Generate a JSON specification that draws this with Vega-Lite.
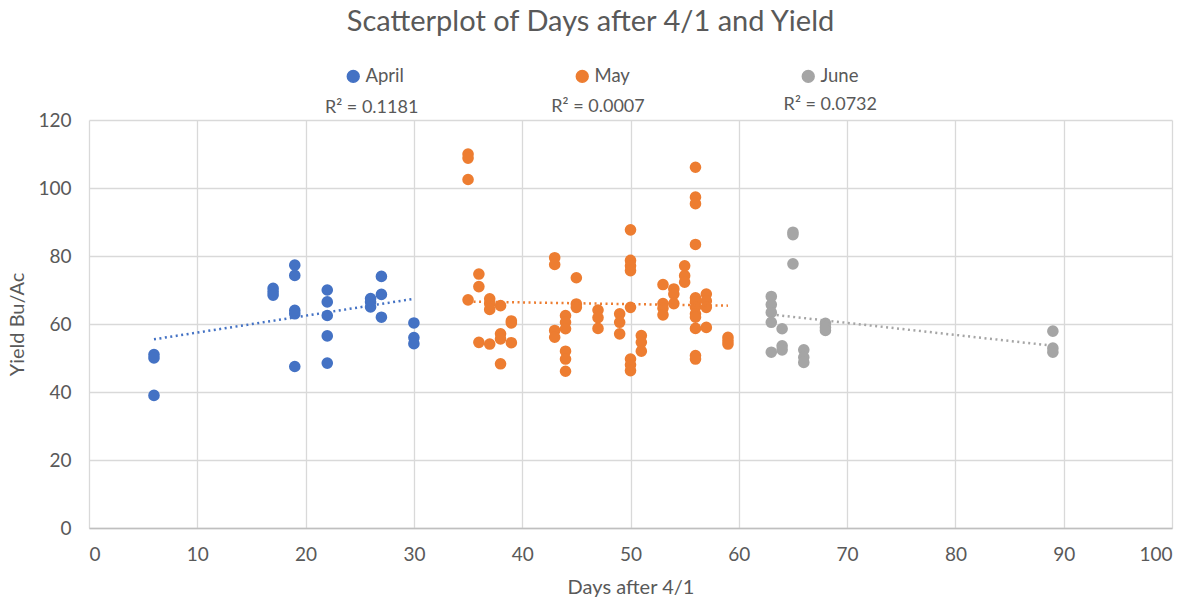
{
  "$schema": "https://vega.github.io/schema/vega-lite/v6.json",
  "width": 1083,
  "height": 408,
  "autosize": {"type": "none"},
  "padding": {"left": 89, "top": 120, "right": 21, "bottom": 75},
  "background": "white",
  "title": {
    "text": "Scatterplot of Days after 4/1 and Yield",
    "font": "Lato",
    "fontSize": 29,
    "fontWeight": "normal",
    "color": "#595959",
    "anchor": "middle",
    "dx": -40,
    "offset": 30
  },
  "config": {
    "view": {"stroke": null},
    "font": "Lato",
    "axis": {
      "labelFont": "Lato",
      "labelFontSize": 19,
      "labelColor": "#595959",
      "titleFont": "Lato",
      "titleFontSize": 20,
      "titleFontWeight": "normal",
      "titleColor": "#595959",
      "gridColor": "#D9D9D9",
      "gridWidth": 1.3,
      "ticks": false,
      "domainColor": "#BFBFBF",
      "domainWidth": 1.5
    }
  },
  "datasets": {
    "points": [
      {"month": "April", "day": 6, "yield": 51},
      {"month": "April", "day": 6, "yield": 50},
      {"month": "April", "day": 6, "yield": 39},
      {"month": "April", "day": 17, "yield": 70.5},
      {"month": "April", "day": 17, "yield": 69.5},
      {"month": "April", "day": 17, "yield": 68.5},
      {"month": "April", "day": 19, "yield": 77.3},
      {"month": "April", "day": 19, "yield": 74.3},
      {"month": "April", "day": 19, "yield": 64},
      {"month": "April", "day": 19, "yield": 63},
      {"month": "April", "day": 19, "yield": 47.5},
      {"month": "April", "day": 22, "yield": 70},
      {"month": "April", "day": 22, "yield": 66.5},
      {"month": "April", "day": 22, "yield": 62.5},
      {"month": "April", "day": 22, "yield": 56.5},
      {"month": "April", "day": 22, "yield": 48.5},
      {"month": "April", "day": 26, "yield": 67.5},
      {"month": "April", "day": 26, "yield": 66.5},
      {"month": "April", "day": 26, "yield": 65},
      {"month": "April", "day": 27, "yield": 74},
      {"month": "April", "day": 27, "yield": 68.7},
      {"month": "April", "day": 27, "yield": 62},
      {"month": "April", "day": 30, "yield": 60.3},
      {"month": "April", "day": 30, "yield": 56},
      {"month": "April", "day": 30, "yield": 54.2},
      {"month": "May", "day": 35, "yield": 110},
      {"month": "May", "day": 35, "yield": 108.8},
      {"month": "May", "day": 35, "yield": 102.5},
      {"month": "May", "day": 35, "yield": 67.1},
      {"month": "May", "day": 36, "yield": 74.7},
      {"month": "May", "day": 36, "yield": 71},
      {"month": "May", "day": 36, "yield": 54.6},
      {"month": "May", "day": 37, "yield": 67.4},
      {"month": "May", "day": 37, "yield": 66},
      {"month": "May", "day": 37, "yield": 64.3},
      {"month": "May", "day": 37, "yield": 54.1},
      {"month": "May", "day": 38, "yield": 65.4},
      {"month": "May", "day": 38, "yield": 57.1},
      {"month": "May", "day": 38, "yield": 55.6},
      {"month": "May", "day": 38, "yield": 48.3},
      {"month": "May", "day": 39, "yield": 60.9},
      {"month": "May", "day": 39, "yield": 60.3},
      {"month": "May", "day": 39, "yield": 54.5},
      {"month": "May", "day": 43, "yield": 79.5},
      {"month": "May", "day": 43, "yield": 77.5},
      {"month": "May", "day": 43, "yield": 58.1},
      {"month": "May", "day": 43, "yield": 56.1},
      {"month": "May", "day": 44, "yield": 62.5},
      {"month": "May", "day": 44, "yield": 60.5},
      {"month": "May", "day": 44, "yield": 58.6},
      {"month": "May", "day": 44, "yield": 52},
      {"month": "May", "day": 44, "yield": 49.7},
      {"month": "May", "day": 44, "yield": 46.1},
      {"month": "May", "day": 45, "yield": 73.6},
      {"month": "May", "day": 45, "yield": 65.9},
      {"month": "May", "day": 45, "yield": 64.9},
      {"month": "May", "day": 47, "yield": 64.1},
      {"month": "May", "day": 47, "yield": 61.9},
      {"month": "May", "day": 47, "yield": 58.7},
      {"month": "May", "day": 49, "yield": 63},
      {"month": "May", "day": 49, "yield": 60.5},
      {"month": "May", "day": 49, "yield": 57.1},
      {"month": "May", "day": 50, "yield": 87.7},
      {"month": "May", "day": 50, "yield": 78.7},
      {"month": "May", "day": 50, "yield": 77.1},
      {"month": "May", "day": 50, "yield": 75.7},
      {"month": "May", "day": 50, "yield": 64.9},
      {"month": "May", "day": 50, "yield": 49.7},
      {"month": "May", "day": 50, "yield": 48},
      {"month": "May", "day": 50, "yield": 46.3},
      {"month": "May", "day": 51, "yield": 56.6},
      {"month": "May", "day": 51, "yield": 54.6},
      {"month": "May", "day": 51, "yield": 52},
      {"month": "May", "day": 53, "yield": 71.6},
      {"month": "May", "day": 53, "yield": 66},
      {"month": "May", "day": 53, "yield": 64.6},
      {"month": "May", "day": 53, "yield": 62.7},
      {"month": "May", "day": 54, "yield": 70.3},
      {"month": "May", "day": 54, "yield": 68.8},
      {"month": "May", "day": 54, "yield": 66},
      {"month": "May", "day": 55, "yield": 77.1},
      {"month": "May", "day": 55, "yield": 74.2},
      {"month": "May", "day": 55, "yield": 72.3},
      {"month": "May", "day": 56, "yield": 106.1},
      {"month": "May", "day": 56, "yield": 97.3},
      {"month": "May", "day": 56, "yield": 95.4},
      {"month": "May", "day": 56, "yield": 83.4},
      {"month": "May", "day": 56, "yield": 67.7},
      {"month": "May", "day": 56, "yield": 66.5},
      {"month": "May", "day": 56, "yield": 64.9},
      {"month": "May", "day": 56, "yield": 63},
      {"month": "May", "day": 56, "yield": 62},
      {"month": "May", "day": 56, "yield": 58.7},
      {"month": "May", "day": 56, "yield": 50.7},
      {"month": "May", "day": 56, "yield": 49.7},
      {"month": "May", "day": 57, "yield": 68.8},
      {"month": "May", "day": 57, "yield": 66.8},
      {"month": "May", "day": 57, "yield": 64.9},
      {"month": "May", "day": 57, "yield": 59},
      {"month": "May", "day": 59, "yield": 56.1},
      {"month": "May", "day": 59, "yield": 55.1},
      {"month": "May", "day": 59, "yield": 54.1},
      {"month": "June", "day": 63, "yield": 68.1},
      {"month": "June", "day": 63, "yield": 65.7},
      {"month": "June", "day": 63, "yield": 63.4},
      {"month": "June", "day": 63, "yield": 60.5},
      {"month": "June", "day": 63, "yield": 51.7},
      {"month": "June", "day": 64, "yield": 58.6},
      {"month": "June", "day": 64, "yield": 53.6},
      {"month": "June", "day": 64, "yield": 52.4},
      {"month": "June", "day": 65, "yield": 87},
      {"month": "June", "day": 65, "yield": 86.3},
      {"month": "June", "day": 65, "yield": 77.7},
      {"month": "June", "day": 66, "yield": 52.4},
      {"month": "June", "day": 66, "yield": 50.2},
      {"month": "June", "day": 66, "yield": 48.7},
      {"month": "June", "day": 68, "yield": 60.2},
      {"month": "June", "day": 68, "yield": 59},
      {"month": "June", "day": 68, "yield": 58.1},
      {"month": "June", "day": 89, "yield": 57.9},
      {"month": "June", "day": 89, "yield": 52.9},
      {"month": "June", "day": 89, "yield": 51.7}
    ],
    "trends": [
      {"month": "April", "day": 6, "yield": 55.5},
      {"month": "April", "day": 30, "yield": 67.4},
      {"month": "May", "day": 35, "yield": 66.6},
      {"month": "May", "day": 59, "yield": 65.4},
      {"month": "June", "day": 63, "yield": 62.8},
      {"month": "June", "day": 89, "yield": 53.6}
    ],
    "rsq": [
      {"month": "April", "label": "R² = 0.1181", "day": 26.1, "yield": 123.5},
      {"month": "May", "label": "R² = 0.0007", "day": 47.0, "yield": 123.9},
      {"month": "June", "label": "R² = 0.0732", "day": 68.45, "yield": 124.4}
    ]
  },
  "layer": [
    {
      "data": {"name": "points"},
      "mark": {"type": "circle", "size": 135, "opacity": 1},
      "encoding": {
        "x": {
          "field": "day", "type": "quantitative",
          "scale": {"domain": [0, 100], "nice": false},
          "axis": {"title": "Days after 4/1", "values": [0,10,20,30,40,50,60,70,80,90,100], "labelPadding": 17, "titlePadding": 13}
        },
        "y": {
          "field": "yield", "type": "quantitative",
          "scale": {"domain": [0, 120], "nice": false},
          "axis": {"title": "Yield Bu/Ac", "values": [0,20,40,60,80,100,120], "domain": false, "labelPadding": 18, "titlePadding": 10}
        },
        "color": {
          "field": "month", "type": "nominal",
          "scale": {"domain": ["April", "May", "June"], "range": ["#4472C4", "#ED7D31", "#A5A5A5"]},
          "legend": {
            "title": null,
            "orient": "none",
            "legendX": 255,
            "legendY": -53,
            "direction": "horizontal",
            "columnPadding": 169,
            "symbolType": "circle",
            "symbolSize": 140,
            "symbolOpacity": 1,
            "labelFont": "Lato",
            "labelFontSize": 18.5,
            "labelColor": "#595959",
            "labelOffset": 3
          }
        }
      }
    },
    {
      "data": {"name": "trends"},
      "mark": {"type": "line", "strokeWidth": 2.5, "strokeDash": [2, 3.5]},
      "encoding": {
        "x": {"field": "day", "type": "quantitative"},
        "y": {"field": "yield", "type": "quantitative"},
        "color": {"field": "month", "type": "nominal", "legend": null}
      }
    },
    {
      "data": {"name": "rsq"},
      "mark": {"type": "text", "font": "Lato", "fontSize": 18, "color": "#595959", "align": "center", "baseline": "middle"},
      "encoding": {
        "x": {"field": "day", "type": "quantitative"},
        "y": {"field": "yield", "type": "quantitative"},
        "text": {"field": "label"}
      }
    }
  ]
}
